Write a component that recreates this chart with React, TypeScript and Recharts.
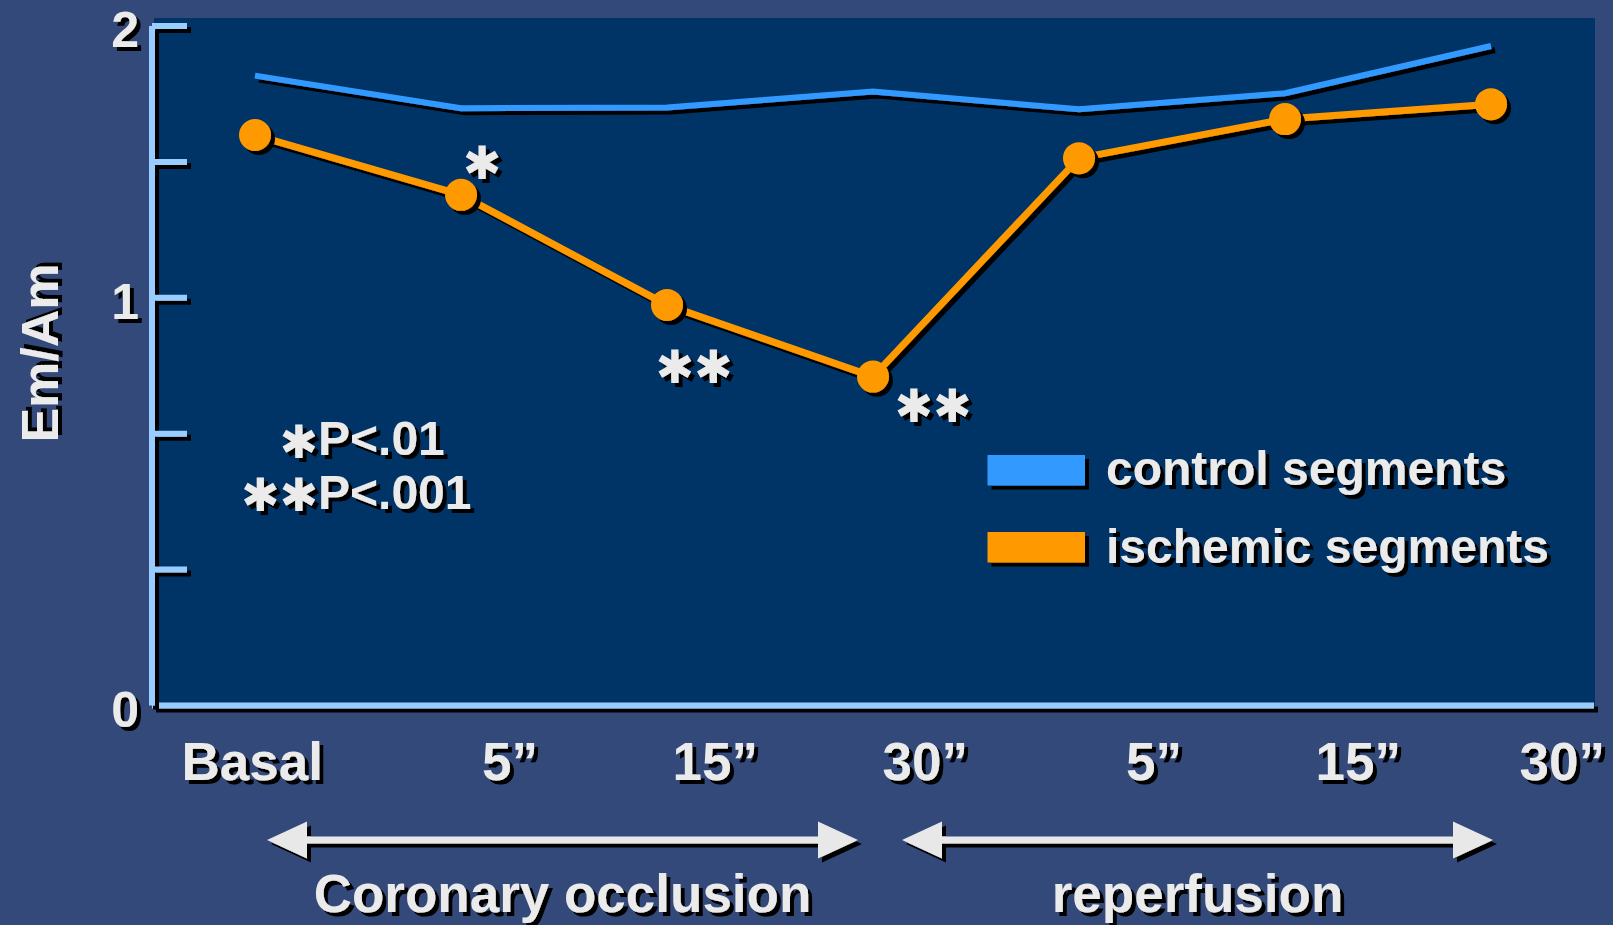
import React from 'react';
import { LineChart, Line, XAxis, YAxis, Legend, LabelList } from 'recharts';

// ---------- data ----------
const categories = ['Basal', '5”', '15”', '30”', '5”', '15”', '30”'];
const controlSegments = [1.854, 1.758, 1.76, 1.807, 1.755, 1.802, 1.941];
const ischemicSegments = [1.679, 1.503, 1.179, 0.968, 1.611, 1.726, 1.77];
const significance = ['', '*', '**', '**', '', '', ''];
const yTicks = [0, 0.4, 0.8, 1.2, 1.6, 2];
const yTickLabels = ['0', '', '', '1', '', '2'];
const phaseLabels = ['Coronary occlusion', 'reperfusion'];
const pValueStars = ['*', '**'];
const pValueTexts = ['P<.01', 'P<.001'];
const seriesNames = ['control segments', 'ischemic segments'];

const data = categories.map((cat, i) => ({
  cat,
  control: controlSegments[i],
  ischemic: ischemicSegments[i],
  sig: significance[i],
}));

// ---------- layout / style ----------
const W = 1613;
const H = 925;
const FONT = "'Liberation Sans', Arial, Helvetica, sans-serif";
const STAR_FONT = "'DejaVu Sans', sans-serif";
const TEXT = '#ebebeb';
const BLUE = '#3399ff';
const ORANGE = '#ff9900';
const AXIS = '#99ccff';
const PANEL = '#003366';
const BG = '#33497a';

const PLOT_LEFT = 152;
const PLOT_RIGHT = 1594;
const PLOT_TOP = 26;
const PLOT_BOTTOM = 705.5;
const Y_AXIS_W = 100;
const X_AXIS_H = 100;
const X_PAD = (PLOT_RIGHT - PLOT_LEFT) / 14;
const STEP = (PLOT_RIGHT - PLOT_LEFT - 2 * X_PAD) / (categories.length - 1);
const xAt = (i: number) => PLOT_LEFT + X_PAD + i * STEP;

// horizontal shift of each x tick label (right edge) from its category point
const X_LABEL_SHIFT = [68, 77, 91, 95, 103, 116, 114];

const margin = {
  top: PLOT_TOP,
  right: W - PLOT_RIGHT,
  bottom: H - PLOT_BOTTOM - X_AXIS_H,
  left: PLOT_LEFT - Y_AXIS_W,
};

// offsets of the significance stars relative to their point
const SIG_OFFSETS: Record<number, [number, number]> = {
  1: [21, -32],
  2: [27, 62],
  3: [60, 29],
};

const STAR_SIZE = 46;
const STAR_SHIFT = 0.36 * STAR_SIZE; // ink centre above baseline

const css = `
.recharts-line-curve, .recharts-line-dots, .recharts-cartesian-axis-line { filter: url(#ds); }
`;

const Stars = ({ cx, cy, text, anchor = 'middle' }: any) => (
  <text
    x={cx}
    y={cy + STAR_SHIFT}
    textAnchor={anchor}
    fill={TEXT}
    fontSize={STAR_SIZE}
    fontFamily={STAR_FONT}
    filter="url(#ds)"
  >
    {String(text).replace(/\*/g, '✱')}
  </text>
);

const XTick = (props: any) => {
  const { x, y, payload, index } = props;
  return (
    <text
      x={x + X_LABEL_SHIFT[index]}
      y={y + 66.5}
      textAnchor="end"
      fill={TEXT}
      fontSize={53}
      fontWeight="bold"
      fontFamily={FONT}
      filter="url(#ds)"
    >
      {payload.value}
    </text>
  );
};

const YTick = (props: any) => {
  const { x, y, payload } = props;
  const axisX = x + 8;
  const idx = yTicks.indexOf(payload.value);
  const label = idx >= 0 ? yTickLabels[idx] : '';
  return (
    <g>
      {payload.value !== 0 ? (
        <line x1={axisX} y1={y} x2={axisX + 35} y2={y} stroke={AXIS} strokeWidth={6} filter="url(#ds)" />
      ) : null}
      {label ? (
        <text
          x={axisX - 13}
          y={y + 21}
          textAnchor="end"
          fill={TEXT}
          fontSize={50}
          fontWeight="bold"
          fontFamily={FONT}
          filter="url(#ds)"
        >
          {label}
        </text>
      ) : null}
    </g>
  );
};

const renderSig = (props: any) => {
  const { x, y, value, index } = props;
  if (!value || !SIG_OFFSETS[index]) return null;
  const [dx, dy] = SIG_OFFSETS[index];
  return <Stars cx={x + dx} cy={y + dy} text={value} />;
};

const renderLegend = (props: any) => {
  const payload = props.payload || [];
  return (
    <svg width={620} height={150} style={{ overflow: 'visible' }}>
      {payload.map((p: any, i: number) => (
        <g key={i}>
          <rect x={7.5} y={15 + i * 77} width={97.5} height={30.5} fill={p.color} filter="url(#ds)" />
          <text
            x={126}
            y={44.5 + i * 78.5}
            fill={TEXT}
            fontSize={48}
            fontWeight="bold"
            fontFamily={FONT}
            filter="url(#ds)"
          >
            {p.value}
          </text>
        </g>
      ))}
    </svg>
  );
};

const Arrow = ({ x1, x2, y }: { x1: number; x2: number; y: number }) => {
  const hl = 40;
  const hh = 18.5;
  const st = 3.6;
  const pts = [
    [x1, y],
    [x1 + hl, y - hh],
    [x1 + hl, y - st],
    [x2 - hl, y - st],
    [x2 - hl, y - hh],
    [x2, y],
    [x2 - hl, y + hh],
    [x2 - hl, y + st],
    [x1 + hl, y + st],
    [x1 + hl, y + hh],
  ]
    .map((p) => p.join(','))
    .join(' ');
  return <polygon points={pts} fill="#e8e8e8" filter="url(#ds)" />;
};

export default function App() {
  const arrows = [
    { x1: xAt(0) + 12, x2: xAt(3) - 15 },
    { x1: xAt(3) + 29, x2: xAt(6) + 2 },
  ];
  return (
    <div
      style={{
        position: 'absolute',
        left: 0,
        top: 0,
        width: W,
        height: H,
        background: BG,
        overflow: 'hidden',
        fontFamily: FONT,
      }}
    >
      <style>{css}</style>
      <svg width={0} height={0} style={{ position: 'absolute' }}>
        <defs>
          <filter id="ds" filterUnits="userSpaceOnUse" x={-200} y={-200} width={2400} height={1600}>
            <feDropShadow dx={4} dy={4} stdDeviation={0} floodColor="#000" floodOpacity={1} />
          </filter>
        </defs>
      </svg>
      <div
        style={{
          position: 'absolute',
          left: 154,
          top: 18,
          width: 1441,
          height: 688,
          background: PANEL,
        }}
      />
      <div style={{ position: 'absolute', left: 0, top: 0 }}>
        <LineChart width={W} height={H} data={data} margin={margin}>
          <XAxis
            dataKey="cat"
            allowDuplicatedCategory
            padding={{ left: X_PAD, right: X_PAD }}
            height={X_AXIS_H}
            axisLine={{ stroke: AXIS, strokeWidth: 6 }}
            tickLine={false}
            tickSize={6}
            tickMargin={2}
            interval={0}
            tick={<XTick />}
          />
          <YAxis
            type="number"
            domain={[0, 2]}
            ticks={yTicks}
            interval={0}
            width={Y_AXIS_W}
            axisLine={{ stroke: AXIS, strokeWidth: 6 }}
            tickLine={false}
            tickSize={6}
            tickMargin={2}
            tick={<YTick />}
          />
          <Legend
            layout="horizontal"
            verticalAlign="middle"
            align="center"
            wrapperStyle={{ left: 980, top: 440, width: 620, height: 150 }}
            content={renderLegend}
          />
          <Line
            type="linear"
            dataKey="control"
            name={seriesNames[0]}
            stroke={BLUE}
            strokeWidth={6}
            dot={false}
            activeDot={false}
            isAnimationActive={false}
          />
          <Line
            type="linear"
            dataKey="ischemic"
            name={seriesNames[1]}
            stroke={ORANGE}
            strokeWidth={7}
            dot={{ r: 16, fill: ORANGE, stroke: 'none', strokeWidth: 0 }}
            activeDot={false}
            isAnimationActive={false}
          >
            <LabelList dataKey="sig" content={renderSig} />
          </Line>
        </LineChart>
      </div>
      <svg
        width={W}
        height={H}
        style={{ position: 'absolute', left: 0, top: 0, pointerEvents: 'none' }}
      >
        {/* y-axis title */}
        <text
          x={58}
          y={353}
          transform="rotate(-90, 58, 353)"
          textAnchor="middle"
          fill={TEXT}
          fontSize={52}
          fontWeight="bold"
          fontFamily={FONT}
          filter="url(#ds)"
        >
          Em/Am
        </text>
        {/* p-value notes */}
        {pValueTexts.map((t, i) => (
          <g key={i}>
            <Stars cx={318} cy={441 + i * 53} text={pValueStars[i]} anchor="end" />
            <text
              x={318}
              y={455 + i * 54}
              fill={TEXT}
              fontSize={48}
              fontWeight="bold"
              fontFamily={FONT}
              filter="url(#ds)"
            >
              {t}
            </text>
          </g>
        ))}
        {/* phase arrows */}
        {arrows.map((a, i) => (
          <g key={i}>
            <Arrow x1={a.x1} x2={a.x2} y={840} />
            <text
              x={(a.x1 + a.x2) / 2}
              y={911.5}
              textAnchor="middle"
              fill={TEXT}
              fontSize={53}
              fontWeight="bold"
              fontFamily={FONT}
              filter="url(#ds)"
            >
              {phaseLabels[i]}
            </text>
          </g>
        ))}
      </svg>
    </div>
  );
}
